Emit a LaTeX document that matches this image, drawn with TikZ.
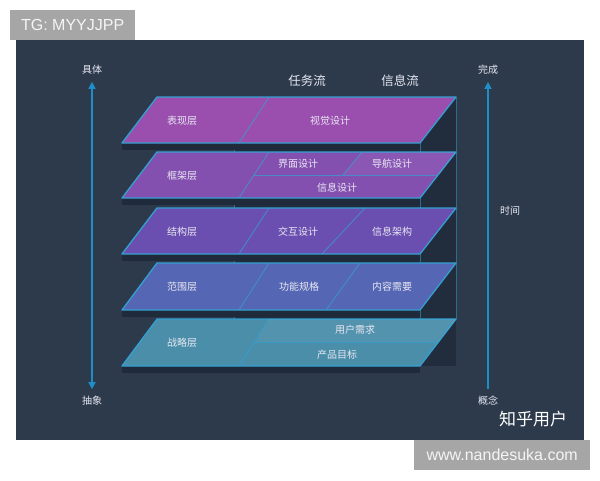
\documentclass[tikz,border=0pt]{standalone}
\usepackage{fontspec}
\setmainfont{Liberation Sans}
\newfontfamily\cjk{Noto Sans CJK SC}
\usetikzlibrary{arrows.meta}
\definecolor{cPanel}{RGB}{44, 58, 75}
\definecolor{cBox}{RGB}{33, 45, 61}
\definecolor{cSlab}{RGB}{31, 42, 58}
\definecolor{cGuide}{RGB}{44, 108, 140}
\definecolor{cEdge}{RGB}{52, 160, 210}
\definecolor{cAxis}{RGB}{30, 143, 198}
\definecolor{cLayerA}{RGB}{154, 79, 174}
\definecolor{cLayerB}{RGB}{132, 80, 176}
\definecolor{cLayerC}{RGB}{107, 79, 176}
\definecolor{cLayerD}{RGB}{85, 102, 180}
\definecolor{cLayerE}{RGB}{74, 142, 170}
\definecolor{cTag}{RGB}{166, 166, 166}
\definecolor{cText}{RGB}{232, 232, 242}
\tikzset{
    font=\cjk\fontsize{10}{12}\selectfont,
    % 层面样式
    layer/.style={draw=cEdge, line width=1.3pt, line join=round},
    split/.style={draw=cEdge, line width=0.9pt, opacity=0.7},
    guide/.style={draw=cGuide, line width=0.8pt},
    % 文字样式
    layerText/.style={text=cText, inner sep=1pt},
    flowText/.style={text=cText, font=\cjk\fontsize{12.5}{14}\selectfont},
    axisText/.style={text=cText, inner sep=3pt},
    axisLine/.style={draw=cAxis, line width=1.6pt, shorten <=4pt, shorten >=4pt},
    tag/.style={fill=cTag, text=white!96!black, font=\fontsize{16}{18}\selectfont,
        inner sep=0pt, minimum height=30pt, anchor=north west}
}

\begin{document}
\begin{tikzpicture}[x=1pt, y=-1pt]

	\useasboundingbox (0,0) rectangle (600,480);

	% ==========================================
	% 背景
	% ==========================================
	\fill [cPanel] (16,40) rectangle (584,440);

	% 立方体框线
	\fill [cBox] (234,97) rectangle (456,366);
	\draw [guide] (234,97) -- (234,366);
	\draw [guide] (420,143) -- (420,366);
	\draw [guide] (456,97) -- (456,319);

	% ==========================================
	% 1. 表现层
	% ==========================================
	\fill [cSlab] (122,143) rectangle (420,150);
	\filldraw [layer, fill=cLayerA] (122,143) -- (420,143) -- (456,97) -- (157,97) -- cycle;
	\draw [split] (239,143) -- (269,97);
	\node [layerText] (surface) at (182,121) {表现层};
	\node [layerText] (visual) at (330,121) {视觉设计};

	% ==========================================
	% 2. 框架层
	% ==========================================
	\fill [cSlab] (122,198) rectangle (420,205);
	\filldraw [layer, fill=cLayerB] (122,198) -- (420,198) -- (456,152) -- (157,152) -- cycle;
	\fill [white, opacity=0.05] (343,175) -- (438,175) -- (456,152) -- (362,152) -- cycle;
	\draw [split] (239,198) -- (269,152);
	\draw [split] (254,175) -- (438,175);
	\draw [split] (343,175) -- (362,152);
	\node [layerText] (skeleton) at (182,176) {框架层};
	\node [layerText] (iface) at (298,164) {界面设计};
	\node [layerText] (navi) at (392,164) {导航设计};
	\node [layerText] (infoDesign) at (337,188) {信息设计};

	% ==========================================
	% 3. 结构层
	% ==========================================
	\fill [cSlab] (122,254) rectangle (420,261);
	\filldraw [layer, fill=cLayerC] (122,254) -- (420,254) -- (456,208) -- (157,208) -- cycle;
	\draw [split] (239,254) -- (269,208);
	\draw [split] (322,254) -- (365,208);
	\node [layerText] (structure) at (182,232) {结构层};
	\node [layerText] (interact) at (298,232) {交互设计};
	\node [layerText] (infoArch) at (392,232) {信息架构};

	% ==========================================
	% 4. 范围层
	% ==========================================
	\fill [cSlab] (122,310) rectangle (420,317);
	\filldraw [layer, fill=cLayerD] (122,310) -- (420,310) -- (456,263) -- (157,263) -- cycle;
	\draw [split] (239,310) -- (269,263);
	\draw [split] (326,310) -- (360,263);
	\node [layerText] (scope) at (182,287) {范围层};
	\node [layerText] (funcSpec) at (299,287) {功能规格};
	\node [layerText] (content) at (392,287) {内容需要};

	% ==========================================
	% 5. 战略层
	% ==========================================
	\fill [cSlab] (122,366) rectangle (420,373);
	\filldraw [layer, fill=cLayerE] (122,366) -- (420,366) -- (456,319) -- (157,319) -- cycle;
	\fill [white, opacity=0.05] (255,342) -- (438,342) -- (456,319) -- (269,319) -- cycle;
	\draw [split] (239,366) -- (269,319);
	\draw [split] (255,342) -- (438,342);
	\node [layerText] (strategy) at (182,343) {战略层};
	\node [layerText] (userNeed) at (355,330) {用户需求};
	\node [layerText] (prodGoal) at (337,355) {产品目标};

	% ==========================================
	% 标题与坐标轴
	% ==========================================
	\node [flowText] (taskFlow) at (307,81) {任务流};
	\node [flowText] (infoFlow) at (400,81) {信息流};

	\node [axisText] (concrete) at (92,70) {具体};
	\node [axisText] (abstract) at (92,401) {抽象};
	\draw [axisLine, {Triangle[width=7pt, length=7pt]}-{Triangle[width=7pt, length=7pt]}]
	(concrete) -- (abstract);

	\node [axisText] (finish) at (488,70) {完成};
	\node [axisText] (concept) at (488,401) {概念};
	\node [axisText] (timeAxis) at (510,211) {时间};
	\draw [axisLine, -{Triangle[width=7pt, length=7pt]}] (concept) -- (finish);

	\node [text=white, font=\cjk\fontsize{17}{19}\selectfont] (zhihu) at (533,419) {知乎用户};

	% ==========================================
	% 水印
	% ==========================================
	\node [tag, minimum width=125pt] (tgTag) at (10,10) {TG: MYYJJPP};
	\node [tag, minimum width=176pt] (siteTag) at (414,440) {www.nandesuka.com};

\end{tikzpicture}
\end{document}
